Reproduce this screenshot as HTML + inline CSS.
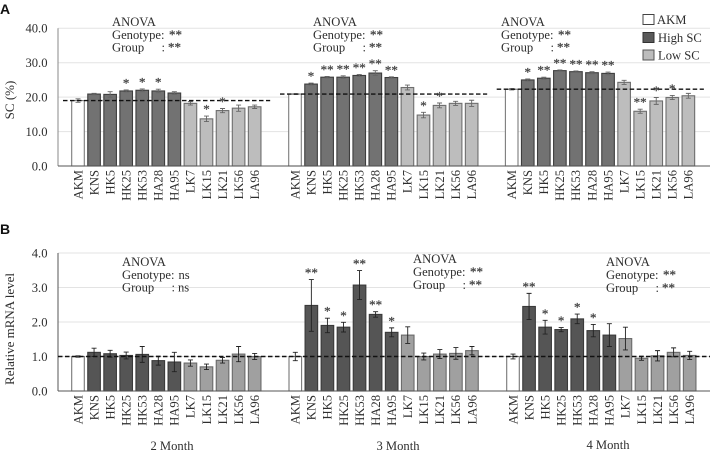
<!DOCTYPE html>
<html lang="en">
<head>
<meta charset="utf-8">
<title>SC and relative mRNA level by genotype</title>
<style>
html,body{margin:0;padding:0;background:#fff;width:710px;height:454px;overflow:hidden}
svg{display:block;filter:blur(0.35px)}
text{font-family:"Liberation Serif",serif;fill:#2e2e2e;font-size:12.6px}
.panel-letter{font-family:"Liberation Sans",sans-serif;font-weight:bold;font-size:14px;fill:#111}
.star{fill:#444;font-size:13px;stroke:#444;stroke-width:0.25px}
.as{fill:#444;font-size:13px;stroke:#444;stroke-width:0.25px}
.axis-title{font-size:13px}
</style>
</head>
<body>
<svg id="chart" xmlns="http://www.w3.org/2000/svg" width="710" height="454" viewBox="0 0 710 454">
  <text class="panel-letter" x="0" y="14">A</text>
  <text class="panel-letter" x="0" y="234">B</text>
  <text class="axis-title" transform="translate(14,100) rotate(-90)" text-anchor="middle">SC (%)</text>
  <text class="axis-title" transform="translate(14,329) rotate(-90)" text-anchor="middle">Relative mRNA level</text>

  <g id="layer-grid"></g>
  <g id="layer-bars"></g>
  <g id="layer-labels"></g>

  <g>
    <text x="112" y="26">ANOVA</text>
    <text x="112" y="39">Genotype:<tspan class="as" x="169">**</tspan></text>
    <text x="112" y="51.500">Group<tspan x="161.500">:</tspan><tspan class="as" x="168">**</tspan></text>
  </g>
  <g>
    <text x="313" y="26">ANOVA</text>
    <text x="313" y="39">Genotype:<tspan class="as" x="370">**</tspan></text>
    <text x="313" y="51.500">Group<tspan x="362.500">:</tspan><tspan class="as" x="369">**</tspan></text>
  </g>
  <g>
    <text x="501" y="26">ANOVA</text>
    <text x="501" y="39">Genotype:<tspan class="as" x="558">**</tspan></text>
    <text x="501" y="51.500">Group<tspan x="550.500">:</tspan><tspan class="as" x="557">**</tspan></text>
  </g>
  <g>
    <text x="122" y="266">ANOVA</text>
    <text x="122" y="279">Genotype:<tspan x="178.500">ns</tspan></text>
    <text x="122" y="291.500">Group<tspan x="171.500">:</tspan><tspan x="178">ns</tspan></text>
  </g>
  <g>
    <text x="413" y="263">ANOVA</text>
    <text x="413" y="276">Genotype:<tspan class="as" x="470">**</tspan></text>
    <text x="413" y="289">Group<tspan x="462.500">:</tspan><tspan class="as" x="469">**</tspan></text>
  </g>
  <g>
    <text x="606" y="266">ANOVA</text>
    <text x="606" y="279">Genotype:<tspan class="as" x="663">**</tspan></text>
    <text x="606" y="292">Group<tspan x="655.500">:</tspan><tspan class="as" x="662">**</tspan></text>
  </g>

  <text x="172" y="450" text-anchor="middle">2 Month</text>
  <text x="398" y="450" text-anchor="middle">3 Month</text>
  <text x="608" y="449" text-anchor="middle">4 Month</text>

  <g>
    <g>
      <rect x="643" y="14.500" width="11" height="10" fill="#fff" stroke="#444" stroke-width="1"/>
      <text x="657" y="24">AKM</text>
    </g>
    <g>
      <rect x="643" y="32.500" width="11" height="10" fill="#5a5a5a" stroke="#333" stroke-width="1"/>
      <text x="658" y="42">High SC</text>
    </g>
    <g>
      <rect x="643" y="50" width="11" height="10" fill="#bcbcbc" stroke="#555" stroke-width="1"/>
      <text x="658" y="59.500">Low SC</text>
    </g>
  </g>
</svg>

<script>
const categories = ['AKM','KNS','HK5','HK25','HK53','HA28','HA95','LK7','LK15','LK21','LK56','LA96'];
const genotypeGroups = ['akm','high','high','high','high','high','high','low','low','low','low','low'];
const months = ['2-month','3-month','4-month'];

const scTickLabels = ['0.0','10.0','20.0','30.0','40.0'];
const mrnaTickLabels = ['0.0','1.0','2.0','3.0','4.0'];

const sc2MonthValues = [19.0,20.9,20.8,21.8,22.0,21.8,21.2,18.2,13.7,16.1,16.8,17.2];
const sc2MonthErrors = [0.5,0.2,0.8,0.3,0.4,0.5,0.4,0.5,0.8,0.6,0.9,0.5];
const sc2MonthStars = ['','','','*','*','*','','','*','*','',''];

const sc3MonthValues = [20.9,23.8,25.8,25.8,26.3,27.0,25.7,22.8,14.8,17.6,18.2,18.2];
const sc3MonthErrors = [0.1,0.3,0.2,0.4,0.3,0.7,0.2,0.7,0.8,0.7,0.6,0.9];
const sc3MonthStars = ['','*','**','**','**','**','**','','*','*','',''];

const sc4MonthValues = [22.3,25.0,25.5,27.7,27.4,27.1,26.9,24.3,15.9,18.9,19.9,20.4];
const sc4MonthErrors = [0.2,0.3,0.3,0.2,0.2,0.3,0.4,0.6,0.6,1.0,0.6,0.7];
const sc4MonthStars = ['','*','**','**','**','**','**','','**','*','*',''];

const mrna2MonthValues = [1.00,1.12,1.08,1.03,1.06,0.88,0.84,0.81,0.70,0.89,1.07,1.00];
const mrna2MonthErrors = [0.02,0.12,0.10,0.10,0.23,0.13,0.28,0.09,0.08,0.08,0.22,0.09];
const mrna2MonthStars = ['','','','','','','','','','','',''];

const mrna3MonthValues = [1.00,2.48,1.90,1.85,3.07,2.22,1.70,1.62,1.00,1.07,1.09,1.17];
const mrna3MonthErrors = [0.12,0.75,0.21,0.14,0.42,0.08,0.13,0.24,0.10,0.13,0.17,0.12];
const mrna3MonthStars = ['','**','*','*','**','**','*','','','','',''];

const mrna4MonthValues = [1.00,2.45,1.85,1.78,2.09,1.75,1.62,1.52,0.95,1.02,1.12,1.03];
const mrna4MonthErrors = [0.07,0.38,0.20,0.06,0.14,0.18,0.33,0.33,0.06,0.15,0.13,0.12];
const mrna4MonthStars = ['','**','*','*','*','*','','','','','',''];

const SVG_NS = 'http://www.w3.org/2000/svg';
const layerGrid = document.getElementById('layer-grid');
const layerBars = document.getElementById('layer-bars');
const layerLabels = document.getElementById('layer-labels');

function make(tag, attrs, parent) {
  const node = document.createElementNS(SVG_NS, tag);
  Object.keys(attrs).forEach(function (k) { node.setAttribute(k, attrs[k]); });
  parent.appendChild(node);
  return node;
}

function drawPanel(cfg) {
  const yScale = function (v) { return cfg.y0 - (v / cfg.max) * (cfg.y0 - cfg.yTop); };
  const xScale = function (g, i) { return cfg.starts[g] + i * 16.06; };

  cfg.ticks.forEach(function (label, t) {
    const value = cfg.max * t / (cfg.ticks.length - 1);
    if (t > 0) {
      const grid = make('line', {x1: 58, x2: 710, y1: yScale(value), y2: yScale(value), stroke: '#e3e3e3', 'stroke-width': 1}, layerGrid);
      
      
    }
    const tick = make('text', {x: 47.500, y: yScale(value) + 4.300, 'text-anchor': 'end'}, layerLabels);
    tick.textContent = label;
    
    
  });

  const yAxis = make('line', {x1: 58, x2: 58, y1: cfg.yTop, y2: cfg.y0, stroke: cfg.axis, 'stroke-width': 1}, layerBars);
  
  

  cfg.series.forEach(function (s, g) {
    categories.forEach(function (cat, i) {
      const v = s.values[i];
      const e = s.errors[i];
      const x = xScale(g, i);
      const kind = genotypeGroups[i];
      const bar = make('rect', {
        x: x - 6.300, y: yScale(v), width: 12.600, height: cfg.y0 - yScale(v),
        fill: cfg.fill[kind], stroke: cfg.stroke[kind], 'stroke-width': 1.100
      }, layerBars);
      
      

      const err = make('path', {
        d: 'M' + x + ' ' + yScale(v + e) + 'V' + yScale(v - e) +
           'M' + (x - 2.500) + ' ' + yScale(v + e) + 'h5' +
           'M' + (x - 2.500) + ' ' + yScale(v - e) + 'h5',
        fill: 'none', stroke: cfg.errColor, 'stroke-width': 0.900
      }, layerBars);
      
      

      const lab = make('text', {transform: 'translate(' + (x + 4.300) + ',' + (cfg.y0 + 4) + ') rotate(-90)', 'text-anchor': 'end'}, layerLabels);
      lab.textContent = cat;
      
      

      if (s.stars[i]) {
        const star = make('text', {class: 'star', x: x, y: yScale(v + e) - 9 + 6.500, 'text-anchor': 'middle'}, layerLabels);
        star.textContent = s.stars[i];
        
        
      }
    });

    if (cfg.dashSpan) {
      const ref = make('line', {
        x1: xScale(g, 0) - 15, x2: xScale(g, 11) + 15.500,
        y1: yScale(s.values[0]), y2: yScale(s.values[0]),
        stroke: '#111', 'stroke-width': 1.400, 'stroke-dasharray': '4.500 2.500'
      }, layerBars);
      
      
    }
  });

  if (!cfg.dashSpan) {
    const ref = make('line', {
      x1: 58, x2: 710, y1: yScale(cfg.series[0].values[0]), y2: yScale(cfg.series[0].values[0]),
      stroke: '#111', 'stroke-width': 1.400, 'stroke-dasharray': '4.500 2.500'
    }, layerBars);
    
    
  }

  const xAxis = make('line', {x1: 58, x2: 710, y1: cfg.y0, y2: cfg.y0, stroke: '#555', 'stroke-width': 1}, layerBars);
  
  
}

drawPanel({
  id: 'sc',
  y0: 166, yTop: 28.300, max: 40,
  ticks: scTickLabels,
  starts: [78, 295, 511.700],
  axis: '#888',
  errColor: '#666',
  dashSpan: true,
  fill: {akm: '#fff', high: '#727272', low: '#bdbdbd'},
  stroke: {akm: '#7c7c7c', high: '#3e3e3e', low: '#6e6e6e'},
  series: [
    {values: sc2MonthValues, errors: sc2MonthErrors, stars: sc2MonthStars},
    {values: sc3MonthValues, errors: sc3MonthErrors, stars: sc3MonthStars},
    {values: sc4MonthValues, errors: sc4MonthErrors, stars: sc4MonthStars}
  ]
});

drawPanel({
  id: 'mrna',
  y0: 391, yTop: 253, max: 4,
  ticks: mrnaTickLabels,
  starts: [78, 295.300, 513],
  axis: '#555',
  errColor: '#222',
  dashSpan: false,
  fill: {akm: '#fff', high: '#555', low: '#a0a0a0'},
  stroke: {akm: '#777', high: '#3a3a3a', low: '#6a6a6a'},
  series: [
    {values: mrna2MonthValues, errors: mrna2MonthErrors, stars: mrna2MonthStars},
    {values: mrna3MonthValues, errors: mrna3MonthErrors, stars: mrna3MonthStars},
    {values: mrna4MonthValues, errors: mrna4MonthErrors, stars: mrna4MonthStars}
  ]
});
</script>
</body>
</html>
